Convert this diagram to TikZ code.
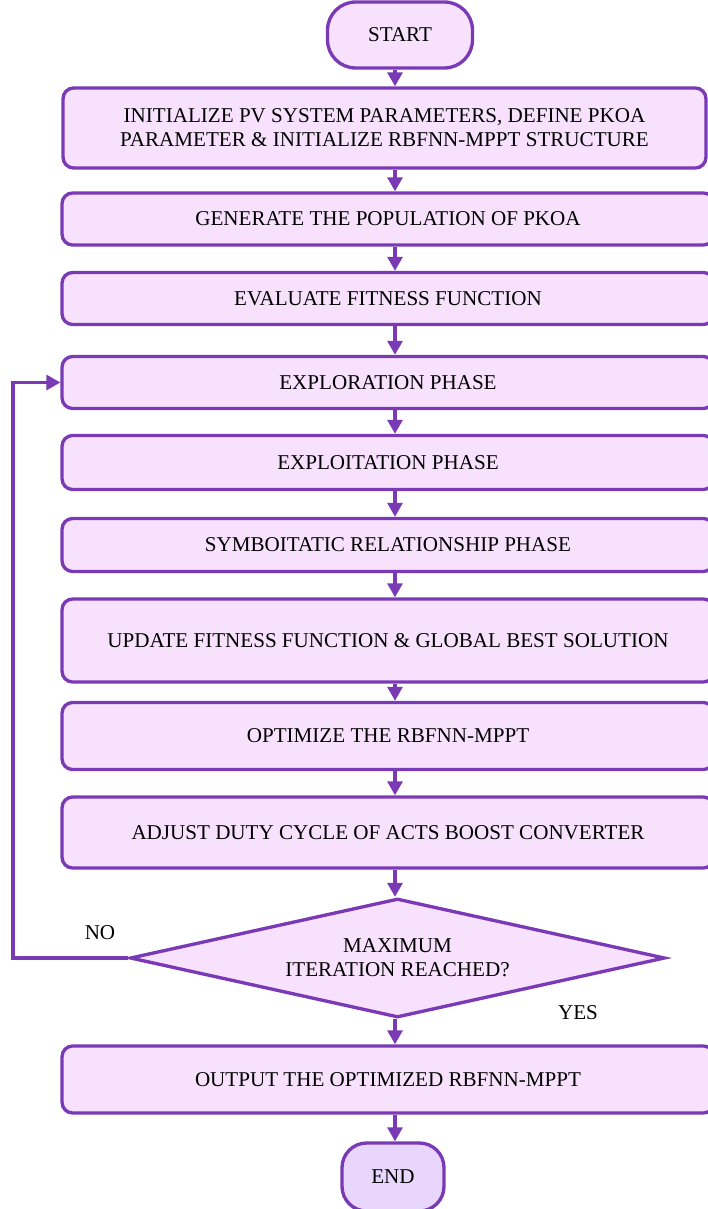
\documentclass[tikz,border=0pt]{standalone}
\usepackage{fontspec}
\setmainfont{Liberation Serif}
\usetikzlibrary{arrows.meta}
\usetikzlibrary{shapes.geometric}
\usetikzlibrary{positioning}
\definecolor{flowline}{HTML}{7B3AB5}
\definecolor{flowfill}{HTML}{F7E1FD}
\definecolor{endfill}{HTML}{E9D6FC}

\begin{document}
\begin{tikzpicture}[x=0.02cm,y=-0.02cm,
  font=\fontsize{12}{13.6}\selectfont,
  procbox/.style={draw=flowline,line width=1.9pt,fill=flowfill,rectangle,rounded corners=6pt,align=center,inner sep=0pt,minimum width=13.04cm},
  termbox/.style={draw=flowline,line width=1.9pt,rectangle,align=center,inner sep=0pt},
  decbox/.style={draw=flowline,line width=1.9pt,fill=flowfill,diamond,aspect=4.5,align=center,inner sep=0pt,minimum width=10.7cm,minimum height=2.38cm},
  flowarrow/.style={draw=flowline,line width=1.9pt,-{Triangle[width=8.5pt,length=8pt]}}]
\useasboundingbox (0,0) rectangle (707,1209);
\coordinate (spine) at (395,0);

\node[termbox,fill=flowfill,rounded corners=16pt,minimum width=2.9cm,minimum height=1.32cm] (start) at (400,35) {START};
\node[procbox,minimum width=12.86cm,minimum height=1.6cm] (b1) at (384.5,128) {INITIALIZE PV SYSTEM PARAMETERS, DEFINE PKOA\\PARAMETER \& INITIALIZE RBFNN-MPPT STRUCTURE};
\node[procbox,minimum height=1.04cm] (b2) at (388,219) {GENERATE THE POPULATION OF PKOA};
\node[procbox,minimum height=1.04cm] (b3) at (388,298.5) {EVALUATE FITNESS FUNCTION};
\node[procbox,minimum height=1.04cm] (b4) at (388,382.5) {EXPLORATION PHASE};
\node[procbox,minimum height=1.08cm] (b5) at (388,462.5) {EXPLOITATION PHASE};
\node[procbox,minimum height=1.06cm] (b6) at (388,545) {SYMBOITATIC RELATIONSHIP PHASE};
\node[procbox,minimum height=1.66cm] (b7) at (388,640.5) {UPDATE FITNESS FUNCTION \& GLOBAL BEST SOLUTION};
\node[procbox,minimum height=1.34cm] (b8) at (388,736) {OPTIMIZE THE RBFNN-MPPT};
\node[procbox,minimum height=1.42cm] (b9) at (388,832.5) {ADJUST DUTY CYCLE OF ACTS BOOST CONVERTER};
\node[decbox] (dec) at (397.5,958) {MAXIMUM\\ITERATION REACHED?};
\node[procbox,minimum height=1.34cm] (b10) at (388,1079.5) {OUTPUT THE OPTIMIZED RBFNN-MPPT};
\node[termbox,fill=endfill,rounded corners=14pt,minimum width=2.04cm,minimum height=1.36cm] (end) at (393,1177) {END};

% labels of the decision
\node (no) at (100,933) {NO};
\node (yes) at (578,1013) {YES};

% main flow
\draw[flowarrow] (start.south -| spine) -- (b1.north -| spine);
\draw[flowarrow] (b1.south -| spine) -- (b2.north -| spine);
\draw[flowarrow] (b2.south -| spine) -- (b3.north -| spine);
\draw[flowarrow] (b3.south -| spine) -- (b4.north -| spine);
\draw[flowarrow] (b4.south -| spine) -- (b5.north -| spine);
\draw[flowarrow] (b5.south -| spine) -- (b6.north -| spine);
\draw[flowarrow] (b6.south -| spine) -- (b7.north -| spine);
\draw[flowarrow] (b7.south -| spine) -- (b8.north -| spine);
\draw[flowarrow] (b8.south -| spine) -- (b9.north -| spine);
\draw[flowarrow] (b9.south -| spine) -- (dec.north -| spine);
\draw[flowarrow] (dec.south -| spine) -- (b10.north -| spine);
\draw[flowarrow] (b10.south -| spine) -- (end.north -| spine);

% loop back
\coordinate (loop) at (13,958);
\draw[flowarrow] (dec.west) -- (loop) |- (b4.west);

\end{tikzpicture}
\end{document}
